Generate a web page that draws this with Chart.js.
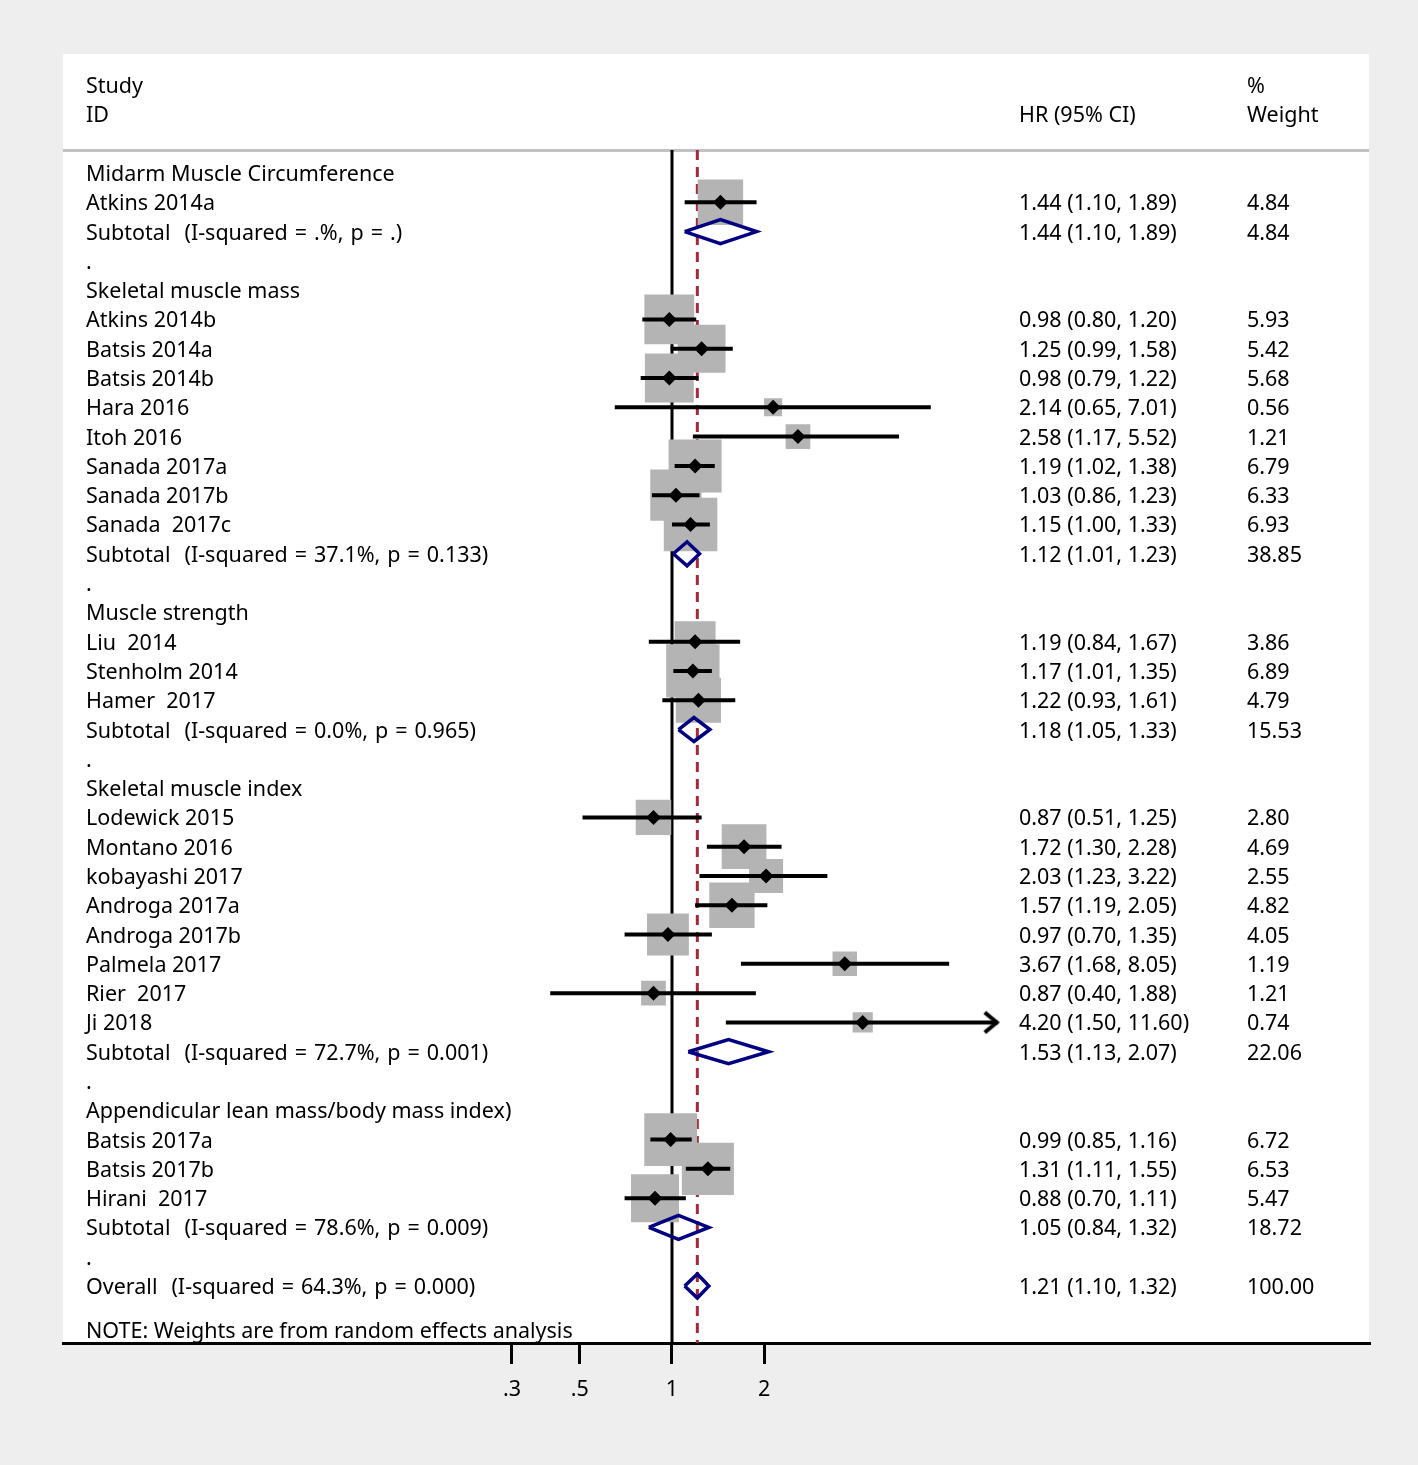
<!DOCTYPE html>
<html>
<head>
<meta charset="utf-8">
<script src="https://cdn.jsdelivr.net/npm/chart.js@4/dist/chart.umd.min.js"></script>
<style>
  html, body { margin: 0; padding: 0; background: #eeeeee; }
  #wrap { width: 1418px; height: 1465px; position: relative; }
</style>
</head>
<body>
<div id="wrap"><canvas id="c" width="1418" height="1465"></canvas></div>
<script>
// ---------------- DATA ----------------
const studyNames = ['Atkins 2014a','Atkins 2014b','Batsis 2014a','Batsis 2014b','Hara 2016','Itoh 2016',
  'Sanada 2017a','Sanada 2017b','Sanada  2017c','Liu  2014','Stenholm 2014','Hamer  2017',
  'Lodewick 2015','Montano 2016','kobayashi 2017','Androga 2017a','Androga 2017b','Palmela 2017',
  'Rier  2017','Ji 2018','Batsis 2017a','Batsis 2017b','Hirani  2017'];
const studyRows = [1,5,6,7,8,9,10,11,12,16,17,18,22,23,24,25,26,27,28,29,33,34,35];
const studyHR   = [1.44,0.98,1.25,0.98,2.14,2.58,1.19,1.03,1.15,1.19,1.17,1.22,0.87,1.72,2.03,1.57,0.97,3.67,0.87,4.20,0.99,1.31,0.88];
const studyLow  = [1.10,0.80,0.99,0.79,0.65,1.17,1.02,0.86,1.00,0.84,1.01,0.93,0.51,1.30,1.23,1.19,0.70,1.68,0.40,1.50,0.85,1.11,0.70];
const studyHigh = [1.89,1.20,1.58,1.22,7.01,5.52,1.38,1.23,1.33,1.67,1.35,1.61,1.25,2.28,3.22,2.05,1.35,8.05,1.88,11.60,1.16,1.55,1.11];
const studyWeight = [4.84,5.93,5.42,5.68,0.56,1.21,6.79,6.33,6.93,3.86,6.89,4.79,2.80,4.69,2.55,4.82,4.05,1.19,1.21,0.74,6.72,6.53,5.47];

const groupNames = ['Midarm Muscle Circumference','Skeletal muscle mass','Muscle strength','Skeletal muscle index','Appendicular lean mass/body mass index)'];
const groupRows = [0,4,15,21,32];
const dotRows = [3,14,20,31,37];

const pooledLabels = ['Subtotal  (I-squared = .%, p = .)','Subtotal  (I-squared = 37.1%, p = 0.133)',
  'Subtotal  (I-squared = 0.0%, p = 0.965)','Subtotal  (I-squared = 72.7%, p = 0.001)',
  'Subtotal  (I-squared = 78.6%, p = 0.009)','Overall  (I-squared = 64.3%, p = 0.000)'];
const pooledRows = [2,13,19,30,36,38];
const pooledEst  = [1.44,1.12,1.18,1.53,1.05,1.21];
const pooledLow  = [1.10,1.01,1.05,1.13,0.84,1.10];
const pooledHigh = [1.89,1.23,1.33,2.07,1.32,1.32];
const pooledWeight = [4.84,38.85,15.53,22.06,18.72,100.00];

const overallEst = 1.21;
const nullValue = 1;
const tickValues = [0.3,0.5,1,2];
const tickLabels = ['.3','.5','1','2'];
const noteText = 'NOTE: Weights are from random effects analysis';
const arrowLimit = 10;

// ---------------- LAYOUT CONSTANTS ----------------
const FONT = '21.5px "Noto Sans", "Open Sans", sans-serif';
const yTop = -0.785, yBottom = 39.945;
const xMin = 0.010228, xMax = 189.6;
const diamondHalf = 0.41;
const colName = 86, colHR = 1019, colW = 1247;

// ---------------- BUILD DATASETS ----------------
const boxPts = studyRows.map((r,i)=>({x: studyHR[i], y: r}));
const markerPts = studyRows.map((r,i)=>({x: studyHR[i], y: r}));
const ciPts = [];
studyRows.forEach((r,i)=>{
  ciPts.push({x: studyLow[i], y: r});
  ciPts.push({x: studyHigh[i], y: r});
  ciPts.push({x: studyHigh[i], y: null});
});
const diaPts = [];
pooledRows.forEach((r,i)=>{
  diaPts.push({x: pooledLow[i], y: r});
  diaPts.push({x: pooledEst[i], y: r - diamondHalf});
  diaPts.push({x: pooledHigh[i], y: r});
  diaPts.push({x: pooledEst[i], y: r + diamondHalf});
  diaPts.push({x: pooledLow[i], y: r});
  diaPts.push({x: pooledLow[i], y: null});
});
const arrowPts = [];
studyRows.forEach((r,i)=>{ if (studyHigh[i] > arrowLimit) arrowPts.push({x: studyHigh[i], y: r}); });

// chevron arrow head image
const arrowImg = document.createElement('canvas');
arrowImg.width = 40; arrowImg.height = 30;
(function(){
  const g = arrowImg.getContext('2d');
  g.strokeStyle = '#000'; g.lineWidth = 4; g.lineCap = 'butt'; g.lineJoin = 'miter';
  g.beginPath(); g.moveTo(7, 5); g.lineTo(19, 15); g.lineTo(7, 25); g.stroke();
})();

const fmt = v => v.toFixed(2);

const textPlugin = {
  id: 'forestText',
  beforeDraw(chart) {
    const ctx = chart.ctx;
    ctx.save();
    ctx.fillStyle = '#eeeeee';
    ctx.fillRect(0, 0, chart.width, chart.height);
    ctx.fillStyle = '#ffffff';
    ctx.fillRect(63, 54, 1306, 1289);
    ctx.fillStyle = '#c2c2c2';
    ctx.fillRect(63, 149, 1306, 3);
    ctx.restore();
  },
  afterDraw(chart) {
    const ctx = chart.ctx;
    const ys = chart.scales.y;
    const Y = r => ys.getPixelForValue(r) + 8;
    ctx.save();
    ctx.fillStyle = '#000';
    ctx.font = FONT;
    ctx.textAlign = 'left';
    ctx.textBaseline = 'alphabetic';
    // header
    ctx.fillText('Study', colName, Y(-3));
    ctx.fillText('ID', colName, Y(-2));
    ctx.fillText('HR (95% CI)', colHR, Y(-2));
    ctx.fillText('%', colW, Y(-3));
    ctx.fillText('Weight', colW, Y(-2));
    groupNames.forEach((g,i)=> ctx.fillText(g, colName, Y(groupRows[i])));
    dotRows.forEach(r => ctx.fillText('.', colName, Y(r)));
    studyNames.forEach((n,i)=>{
      const y = Y(studyRows[i]);
      ctx.fillText(n, colName, y);
      ctx.fillText(fmt(studyHR[i]) + ' (' + fmt(studyLow[i]) + ', ' + fmt(studyHigh[i]) + ')', colHR, y);
      ctx.fillText(fmt(studyWeight[i]), colW, y);
    });
    pooledLabels.forEach((n,i)=>{
      const y = Y(pooledRows[i]);
      ctx.fillText(fmt(pooledEst[i]) + ' (' + fmt(pooledLow[i]) + ', ' + fmt(pooledHigh[i]) + ')', colHR, y);
      ctx.fillText(fmt(pooledWeight[i]), colW, y);
      if ('wordSpacing' in ctx) ctx.wordSpacing = '1.4px';
      ctx.fillText(n, colName, y);
      if ('wordSpacing' in ctx) ctx.wordSpacing = '0px';
    });
    ctx.fillText(noteText, colName, Y(39.5));
    ctx.restore();
  }
};

new Chart(document.getElementById('c'), {
  type: 'line',
  data: {
    datasets: [
      { label: 'null line', data: [{x: nullValue, y: yTop}, {x: nullValue, y: yBottom}],
        borderColor: '#000', borderWidth: 3, pointRadius: 0, fill: false, order: 7 },
      { label: 'overall line', data: [{x: overallEst, y: yTop}, {x: overallEst, y: yBottom}],
        borderColor: '#a3293b', borderWidth: 3, borderDash: [10, 7], pointRadius: 0, fill: false, order: 6 },
      { label: 'boxes', data: boxPts, showLine: false, pointStyle: 'rect',
        pointRadius: c => 13.3 * Math.sqrt(studyWeight[c.dataIndex]),
        pointBackgroundColor: '#b4b4b4', pointBorderColor: '#b4b4b4', pointBorderWidth: 4, order: 5 },
      { label: 'ci', data: ciPts, borderColor: '#000', borderWidth: 4, pointRadius: 0, fill: false,
        spanGaps: false, borderCapStyle: 'butt', order: 4 },
      { label: 'arrow', data: arrowPts, showLine: false, pointStyle: arrowImg, pointRadius: 10, order: 3 },
      { label: 'markers', data: markerPts, showLine: false, pointStyle: 'rectRot', pointRadius: 7.5,
        pointBackgroundColor: '#000', pointBorderWidth: 0, order: 2 },
      { label: 'diamonds', data: diaPts, borderColor: '#000080', borderWidth: 3.5, pointRadius: 0,
        fill: false, spanGaps: false, borderJoinStyle: 'miter', order: 1 }
    ]
  },
  options: {
    responsive: false,
    animation: false,
    events: [],
    layout: { padding: { left: 63, right: 49, top: 150, bottom: 0 } },
    plugins: { legend: { display: false }, tooltip: { enabled: false } },
    elements: { line: { tension: 0 } },
    scales: {
      x: {
        type: 'logarithmic', min: xMin, max: xMax,
        afterBuildTicks: s => { s.ticks = tickValues.map(v => ({value: v})); },
        afterFit: s => { s.height = 122; },
        ticks: { autoSkip: false, maxRotation: 0, padding: 13, color: '#000',
          font: { family: '"Noto Sans", "Open Sans", sans-serif', size: 21.5 },
          callback: (v, i) => tickLabels[i] },
        grid: { display: true, drawOnChartArea: false, drawTicks: true, tickLength: 21, color: '#000', lineWidth: 3 },
        border: { display: true, color: '#000', width: 3 }
      },
      y: { type: 'linear', min: yTop, max: yBottom, reverse: true, display: false }
    }
  },
  plugins: [textPlugin]
});
</script>
</body>
</html>
